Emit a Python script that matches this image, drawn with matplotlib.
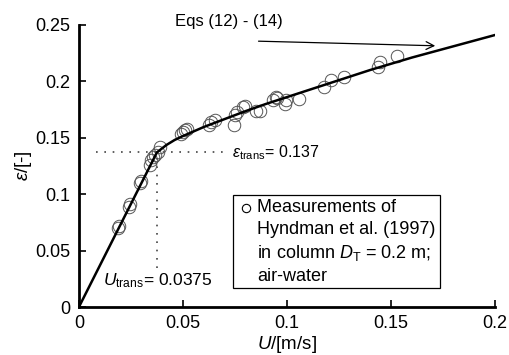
import matplotlib
matplotlib.use("Agg")
import matplotlib.pyplot as plt
from matplotlib.patches import Rectangle

plt.rcParams['font.family'] = ['Liberation Sans', 'DejaVu Sans']
plt.rcParams['mathtext.fontset'] = 'custom'
plt.rcParams['mathtext.it'] = 'Liberation Sans:italic'
plt.rcParams['mathtext.rm'] = 'Liberation Sans'

# Measurements (Hyndman et al. 1997)
meas_u = [0.0188, 0.0195, 0.0240, 0.0245, 0.0295, 0.0300, 0.0340, 0.0345, 0.0355,
          0.0365, 0.0380, 0.0390, 0.0490, 0.0500, 0.0510, 0.0520, 0.0625, 0.0635,
          0.0655, 0.0745, 0.0750, 0.0760, 0.0790, 0.0800, 0.0850, 0.0870, 0.0935,
          0.0945, 0.0950, 0.0990, 0.0995, 0.1060, 0.1180, 0.1210, 0.1275, 0.1440,
          0.1445, 0.1530]
meas_eps = [0.070, 0.072, 0.089, 0.091, 0.110, 0.112, 0.126, 0.130, 0.133,
            0.135, 0.137, 0.142, 0.153, 0.155, 0.157, 0.158, 0.161, 0.164,
            0.166, 0.161, 0.170, 0.173, 0.177, 0.178, 0.174, 0.174, 0.183,
            0.186, 0.185, 0.180, 0.183, 0.184, 0.195, 0.201, 0.204, 0.213,
            0.217, 0.222]

# Model curve, Eqs (12)-(14)
model_u = [0.0, 0.0375, 0.042, 0.046, 0.050, 0.060, 0.070, 0.080, 0.090, 0.100,
           0.120, 0.140, 0.160, 0.180, 0.200]
model_eps = [0.0, 0.137, 0.1435, 0.1480, 0.1515, 0.1595, 0.1665, 0.1735, 0.1800,
             0.1860, 0.1980, 0.2100, 0.2210, 0.2310, 0.2410]

u_trans = 0.0375
eps_trans = 0.137

xticks = [0, 0.05, 0.1, 0.15, 0.2]
xtick_labels = ['0', '0.05', '0.1', '0.15', '0.2']
yticks = [0, 0.05, 0.1, 0.15, 0.2, 0.25]
ytick_labels = ['0', '0.05', '0.1', '0.15', '0.2', '0.25']

legend_lines = ['Measurements of', 'Hyndman et al. (1997)',
                'in column $D_{\\mathrm{T}}$ = 0.2 m;', 'air-water']

fig = plt.figure(figsize=(5.09, 3.55), dpi=100)
ax = fig.add_axes([0.155, 0.135, 0.8175, 0.795])

ax.plot(meas_u, meas_eps, 'o', mfc='none', mec='#555555', mew=0.7, ms=9, zorder=3)
ax.plot(model_u, model_eps, '-', color='black', lw=1.8, zorder=4)

# dotted transition lines
ax.plot([0.008, 0.072], [eps_trans, eps_trans], color='#444444', lw=1.2,
        linestyle=(0, (1, 4)))
ax.plot([u_trans, u_trans], [0.035, eps_trans], color='#444444', lw=1.2,
        linestyle=(0, (1, 4)))

ax.text(0.0735, eps_trans, r'$\varepsilon_{\mathrm{trans}}$= 0.137', fontsize=11.5,
        va='center', ha='left')
ax.text(0.0115, 0.023, r'$U_{\mathrm{trans}}$= 0.0375', fontsize=12.5,
        va='center', ha='left')

# arrow and equation label
ax.annotate('', xy=(0.1726, 0.2314), xytext=(0.085, 0.2356),
            arrowprops=dict(arrowstyle='->', color='black', lw=0.9,
                            mutation_scale=14))
ax.text(0.046, 0.253, 'Eqs (12) - (14)', fontsize=12, ha='left', va='center',
        clip_on=False)

# legend box
ax.add_patch(Rectangle((0.074, 0.017), 0.0995, 0.0825, fc='white', ec='black',
                       lw=0.9, zorder=5))
ax.plot([0.0803], [0.0878], 'o', mfc='none', mec='black', mew=0.8, ms=6, zorder=6)
line_y = [0.0878, 0.0683, 0.0479, 0.0275]
for yy, txt in zip(line_y, legend_lines):
    ax.text(0.0856, yy, txt, fontsize=13, ha='left', va='center', zorder=6)

ax.set_xlim(0, 0.2)
ax.set_ylim(0, 0.25)
ax.set_xticks(xticks)
ax.set_xticklabels(xtick_labels)
ax.set_yticks(yticks)
ax.set_yticklabels(ytick_labels)
ax.tick_params(direction='in', length=5, width=1.2, labelsize=13, pad=6)
for s in ['top', 'right']:
    ax.spines[s].set_visible(False)
for s in ['left', 'bottom']:
    ax.spines[s].set_linewidth(2)

ax.set_xlabel('$U$/[m/s]', fontsize=13.5, labelpad=1)
ax.set_ylabel(r'$\varepsilon$/[-]', fontsize=13.5, labelpad=1)

fig.savefig('out.png', dpi=100)
